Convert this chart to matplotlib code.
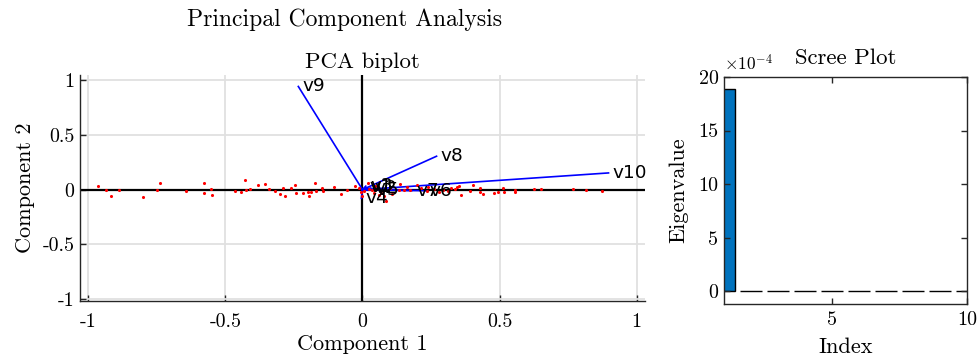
import numpy as np
import matplotlib
matplotlib.use("Agg")
import matplotlib.pyplot as plt
from matplotlib.ticker import FuncFormatter, FixedLocator

plt.rcParams['font.family'] = 'serif'
plt.rcParams['font.serif'] = ['cmr10']
plt.rcParams['mathtext.fontset'] = 'cm'
plt.rcParams['axes.unicode_minus'] = False

# ---------------- data ----------------
score_x = [-0.966, -0.934, -0.916, -0.889, -0.800, -0.749, -0.738, -0.645, -0.578, -0.578,
           -0.552, -0.547, -0.465, -0.444, -0.428, -0.426, -0.409, -0.381, -0.355, -0.342,
           -0.318, -0.300, -0.289, -0.281, -0.259, -0.246, -0.242, -0.218, -0.197, -0.196,
           -0.188, -0.173, -0.169, -0.149, -0.145, -0.105, -0.079, -0.056, -0.029, -0.014,
           -0.007, 0.000, 0.007, 0.019, 0.023, 0.035, 0.041, 0.047, 0.059, 0.066,
           0.078, 0.084, 0.102, 0.108, 0.132, 0.135, 0.151, 0.163, 0.175, 0.200,
           0.212, 0.236, 0.238, 0.260, 0.280, 0.295, 0.311, 0.321, 0.339, 0.346,
           0.351, 0.358, 0.392, 0.404, 0.428, 0.428, 0.439, 0.479, 0.494, 0.512,
           0.516, 0.555, 0.557, 0.627, 0.652, 0.769, 0.816, 0.875]
score_y = [0.030, 0.000, -0.061, 0.000, -0.070, 0.000, 0.064, -0.016, 0.058, -0.027,
           0.003, -0.052, -0.012, -0.018, 0.091, -0.003, 0.009, 0.043, 0.055, 0.003,
           -0.016, -0.043, 0.016, -0.055, 0.016, 0.046, -0.030, -0.030, -0.018, -0.055,
           -0.025, 0.058, -0.016, 0.016, -0.016, 0.025, -0.043, -0.003, 0.030, 0.016,
           -0.025, -0.055, -0.009, 0.061, 0.006, 0.000, -0.030, 0.030, -0.046, -0.030,
           -0.061, -0.107, 0.016, -0.037, 0.000, 0.055, 0.000, 0.025, 0.000, 0.046,
           0.016, -0.016, 0.025, 0.010, -0.020, 0.000, -0.016, 0.016, 0.006, 0.025,
           0.030, -0.046, -0.009, 0.046, 0.016, -0.021, -0.039, -0.034, -0.018, 0.016,
           -0.021, -0.006, -0.021, 0.003, 0.006, 0.009, -0.006, -0.012]

var_labels = ['v1', 'v2', 'v3', 'v4', 'v5', 'v6', 'v7', 'v8', 'v9', 'v10']
coef_x = [0.010, 0.030, 0.012, -0.004, 0.035, 0.230, 0.180, 0.270, -0.234, 0.897]
coef_y = [0.020, 0.015, 0.032, -0.080, 0.000, -0.010, -0.008, 0.306, 0.945, 0.153]

eig_index = [1, 2, 3, 4, 5, 6, 7, 8, 9, 10]
eigenvalues = [1.888e-3, 1.5e-6, 4e-7, 2e-7, 1e-7, 8e-8, 5e-8, 3e-8, 2e-8, 1e-8]

# ---------------- figure ----------------
W, H = 979, 358
fig = plt.figure(figsize=(W / 100, H / 100), dpi=100)

def box(l, t, r, b):
    return [l / W, 1 - b / H, (r - l) / W, (b - t) / H]

axcol = (0.15, 0.15, 0.15)
TICK_FS = 14.4
LABEL_FS = 16
TITLE_FS = 16.4

# ---- biplot ----
ax = fig.add_axes(box(80, 75, 645, 301))
ax.set_xlim(-1.03, 1.03)
ax.set_ylim(-1.02, 1.05)
ticks = [-1, -0.5, 0, 0.5, 1]
ax.set_xticks(ticks)
ax.set_yticks(ticks)
ax.set_xticklabels(['-1', '-0.5', '0', '0.5', '1'])
ax.set_yticklabels(['-1', '-0.5', '0', '0.5', '1'])
ax.grid(True, color=(0.88, 0.88, 0.88), linewidth=1.3)
ax.set_axisbelow(True)
for s in ['top', 'right']:
    ax.spines[s].set_visible(False)
for s in ['left', 'bottom']:
    ax.spines[s].set_color(axcol)
    ax.spines[s].set_linewidth(1.0)
ax.tick_params(direction='in', length=4, width=1, colors=axcol, labelsize=TICK_FS,
               labelcolor='black')
ax.tick_params(axis='x', pad=9)
ax.tick_params(axis='y', pad=4)
ax.axhline(0, color='black', linewidth=1.6, zorder=2)
ax.axvline(0, color='black', linewidth=1.6, zorder=2)

for lab, cx, cy in zip(var_labels, coef_x, coef_y):
    ax.plot([0, cx], [0, cy], color='blue', linewidth=1.2, zorder=3)
    ax.annotate(lab, (cx, cy), xytext=(3, 0), textcoords='offset points',
                ha='left', va='center', fontsize=13.3, family='DejaVu Sans', zorder=5)
ax.scatter(score_x, score_y, s=5, color='red', linewidths=0, zorder=4)

ax.set_xlabel('Component 1', fontsize=LABEL_FS, labelpad=2)
ax.set_ylabel('Component 2', fontsize=LABEL_FS, labelpad=5)
ax.set_title('PCA biplot', fontsize=TITLE_FS, pad=5)

fig.text(187 / W, 1 - 20 / H, 'Principal Component Analysis', ha='left', va='center',
         fontsize=17)

# ---- scree ----
ax2 = fig.add_axes(box(724, 77, 967, 304))
ax2.bar(eig_index, eigenvalues, width=0.8, color=(0, 0.447, 0.741), edgecolor='black',
        linewidth=1.0)
ax2.set_xlim(1, 10)
ax2.set_ylim(-1.2e-4, 20e-4)
ax2.xaxis.set_major_locator(FixedLocator([5, 10]))
ax2.yaxis.set_major_locator(FixedLocator([0, 5e-4, 10e-4, 15e-4, 20e-4]))
ax2.yaxis.set_major_formatter(FuncFormatter(lambda v, p: f'{v * 1e4:g}'))
for s in ax2.spines.values():
    s.set_color(axcol)
    s.set_linewidth(1.0)
ax2.tick_params(direction='in', length=4, width=1, colors=axcol, labelsize=TICK_FS,
                labelcolor='black', top=True, right=True)
ax2.tick_params(axis='x', pad=5)
ax2.tick_params(axis='y', pad=4)
ax2.set_xlabel('Index', fontsize=LABEL_FS, labelpad=6)
ax2.set_ylabel('Eigenvalue', fontsize=LABEL_FS, labelpad=7)
ax2.set_title('Scree Plot', fontsize=TITLE_FS, pad=9)
fig.text(724 / W, 1 - 63 / H, r'$\times10^{-4}$', ha='left', va='center', fontsize=12.5)

fig.savefig('out.png', dpi=100)
